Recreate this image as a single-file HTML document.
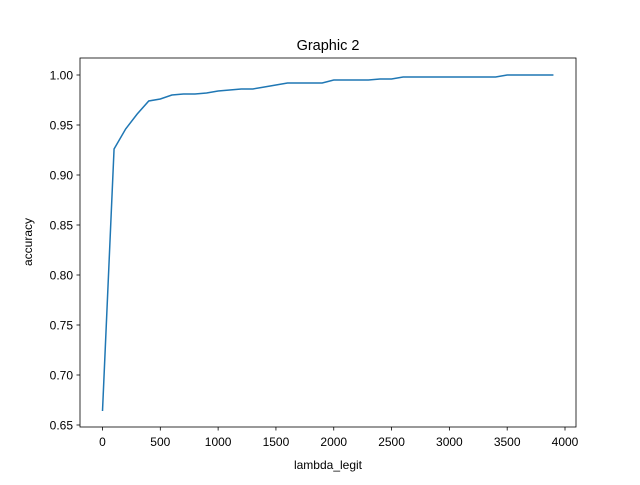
<!DOCTYPE html>
<html><head><meta charset="utf-8"><style>
body{margin:0;background:#fff}
svg text{font-family:"Liberation Sans","DejaVu Sans",sans-serif;fill:#000}
</style></head><body>
<svg id="chart" width="640" height="480" xmlns="http://www.w3.org/2000/svg">
<rect width="640" height="480" fill="#fff"/>
<text x="328" y="50" font-size="14.5" text-anchor="middle">Graphic 2</text>
<text x="328" y="469" font-size="12" text-anchor="middle">lambda_legit</text>
<text x="0" y="0" font-size="12" text-anchor="middle" transform="translate(32,242) rotate(-90)">accuracy</text>
<g id="xt"></g><g id="yt"></g>
<polyline id="line" fill="none" stroke="#1f77b4" stroke-width="1.5"/>
<rect x="80" y="58" width="496" height="369" fill="none" stroke="#000" stroke-width="0.8"/>
</svg>
<script>
const xValues=[0,100,200,300,400,500,600,700,800,900,1000,1100,1200,1300,1400,1500,1600,1700,1800,1900,2000,2100,2200,2300,2400,2500,2600,2700,2800,2900,3000,3100,3200,3300,3400,3500,3600,3700,3800,3900];
const accuracy=[0.664,0.926,0.946,0.961,0.974,0.976,0.980,0.981,0.981,0.982,0.984,0.985,0.986,0.986,0.988,0.990,0.992,0.992,0.992,0.992,0.995,0.995,0.995,0.995,0.996,0.996,0.998,0.998,0.998,0.998,0.998,0.998,0.998,0.998,0.998,1.0,1.0,1.0,1.0,1.0];
const xTicks=[0,500,1000,1500,2000,2500,3000,3500,4000];
const yTicks=[0.65,0.70,0.75,0.80,0.85,0.90,0.95,1.00];
const X=v=>102.5+v*(565-102.5)/4000;
const Y=v=>75+(1-v)*1000;
const NS="http://www.w3.org/2000/svg";
const xt=document.getElementById('xt'),yt=document.getElementById('yt');
xTicks.forEach(t=>{
 const l=document.createElementNS(NS,'line');
 l.setAttribute('x1',X(t));l.setAttribute('x2',X(t));l.setAttribute('y1',427);l.setAttribute('y2',430.5);l.setAttribute('stroke','#000');l.setAttribute('stroke-width','0.8');
 
 
 xt.appendChild(l);
 const s=document.createElementNS(NS,'text');
 s.setAttribute('x',X(t));s.setAttribute('y',446);s.setAttribute('font-size','12');s.setAttribute('text-anchor','middle');s.textContent=t;
 
 
 xt.appendChild(s);
});
yTicks.forEach(t=>{
 const l=document.createElementNS(NS,'line');
 l.setAttribute('x1',76.5);l.setAttribute('x2',80);l.setAttribute('y1',Y(t));l.setAttribute('y2',Y(t));l.setAttribute('stroke','#000');l.setAttribute('stroke-width','0.8');
 
 
 yt.appendChild(l);
 const s=document.createElementNS(NS,'text');
 s.setAttribute('x',73);s.setAttribute('y',Y(t)+4.5);s.setAttribute('font-size','12');s.setAttribute('text-anchor','end');s.textContent=t.toFixed(2);
 
 
 yt.appendChild(s);
});
document.getElementById('line').setAttribute('points',xValues.map((x,i)=>X(x)+','+Y(accuracy[i])).join(' '));
</script>
</body></html>
